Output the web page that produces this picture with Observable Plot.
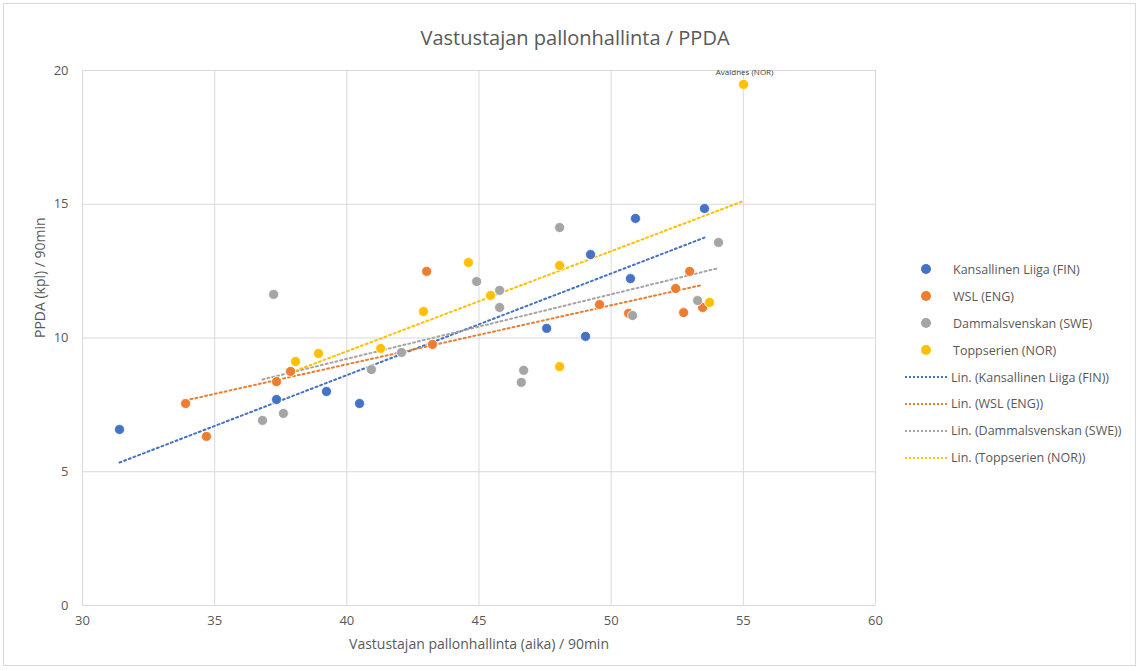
<!DOCTYPE html>
<html>
<head>
<meta charset="utf-8">
<script src="https://cdn.jsdelivr.net/npm/d3@7"></script>
<script src="https://cdn.jsdelivr.net/npm/@observablehq/plot@0.6"></script>
<style>
  html, body { margin: 0; padding: 0; background: #fff; }
  #wrap { position: relative; width: 1141px; height: 671px; overflow: hidden; font-family: "Open Sans", "Liberation Sans", sans-serif; color: #595959; }
  #frame { position: absolute; left: 3px; top: 3px; width: 1133px; height: 663px; border: 1px solid #d9d9d9; box-sizing: border-box; pointer-events: none; }
  #title { position: absolute; left: 0; top: 24px; width: 1150px; text-align: center; font-size: 20px; color: #595959; }
  #chart { position: absolute; left: 0; top: 60px; }
  #legend { position: absolute; left: 905px; top: 256px; font-size: 12.5px; color: #595959; }
  .row { height: 26.9px; display: flex; align-items: center; white-space: nowrap; }
  .sw { width: 42px; display: flex; justify-content: center; align-items: center; margin-right: 6px; }
  .dot { width: 10px; height: 10px; border-radius: 50%; }
  .ln { width: 42px; height: 0; border-top: 2px dotted; }
</style>
</head>
<body>
<div id="wrap">
  <div id="frame"></div>
  <div id="title">Vastustajan pallonhallinta / PPDA</div>
  <div id="chart"></div>
  <div id="legend"></div>
</div>
<script>
// Series names and colours
const seriesNames = ["Kansallinen Liiga (FIN)", "WSL (ENG)", "Dammalsvenskan (SWE)", "Toppserien (NOR)"];
const seriesColors = ["#4472C4", "#ED7D31", "#A5A5A5", "#FFC000"];

// Kansallinen Liiga (FIN)
const finX = [31.4, 37.34, 39.23, 40.48, 47.56, 49.03, 49.22, 50.73, 50.92, 53.53];
const finY = [6.58, 7.70, 8.0, 7.55, 10.36, 10.06, 13.12, 12.22, 14.47, 14.84];

// WSL (ENG)
const engX = [33.9, 34.69, 37.34, 37.87, 43.02, 43.24, 49.56, 50.66, 52.44, 52.74, 52.97, 53.46];
const engY = [7.55, 6.32, 8.37, 8.75, 12.49, 9.76, 11.25, 10.92, 11.85, 10.95, 12.49, 11.14];

// Dammalsvenskan (SWE)
const sweX = [37.23, 36.81, 37.6, 40.93, 42.07, 44.91, 45.78, 45.78, 48.05, 46.69, 46.6, 50.81, 53.27, 54.06];
const sweY = [11.63, 6.92, 7.18, 8.82, 9.46, 12.11, 11.78, 11.14, 14.13, 8.79, 8.34, 10.84, 11.40, 13.57];

// Toppserien (NOR)
const norX = [55.01, 38.06, 38.93, 41.28, 42.9, 44.6, 45.44, 48.05, 48.05, 53.72];
const norY = [19.48, 9.12, 9.42, 9.61, 10.99, 12.82, 11.59, 12.71, 8.93, 11.33];

// Labelled point
const labelText = ["Avaldnes (NOR)"];
const labelX = [55.01];
const labelY = [19.48];

// Axis ticks and titles
const xTicks = [30, 35, 40, 45, 50, 55, 60];
const yTicks = [0, 5, 10, 15, 20];
const xTitle = "Vastustajan pallonhallinta (aika) / 90min";
const yTitle = "PPDA (kpl) / 90min";

const seriesX = [finX, engX, sweX, norX];
const seriesY = [finY, engY, sweY, norY];
const data = [];
seriesNames.forEach((s, i) => {
  seriesX[i].forEach((x, j) => data.push({series: s, x, y: seriesY[i][j]}));
});
const labels = labelText.map((t, i) => ({t, x: labelX[i], y: labelY[i]}));

const plot = Plot.plot({
  width: 1141,
  height: 610,
  marginLeft: 82,
  marginRight: 266,
  marginTop: 10,
  marginBottom: 65,
  style: {fontFamily: "'Open Sans', 'Liberation Sans', sans-serif", color: "#595959", background: "transparent"},
  x: {domain: [30, 60]},
  y: {domain: [0, 20]},
  color: {domain: seriesNames, range: seriesColors},
  marks: [
    Plot.gridX(xTicks, {stroke: "#d9d9d9", strokeOpacity: 1}),
    Plot.gridY(yTicks, {stroke: "#d9d9d9", strokeOpacity: 1}),
    Plot.axisX(xTicks, {tickSize: 0, tickPadding: 10, fontSize: 13, label: null}),
    Plot.axisY(yTicks, {tickSize: 0, tickPadding: 14, fontSize: 13, label: null}),
    Plot.linearRegressionY(data, {x: "x", y: "y", stroke: "series", ci: 0, strokeWidth: 2, strokeDasharray: "2 3"}),
    Plot.dot(data, {x: "x", y: "y", fill: "series", r: 5, stroke: "white", strokeWidth: 0.8}),
    Plot.text(labels, {x: "x", y: "y", text: "t", dy: -12, dx: 1, fontSize: 8, fill: "#404040"}),
    Plot.text([xTitle], {frameAnchor: "bottom", dy: 43, fontSize: 14, fill: "#595959"}),
    Plot.text([yTitle], {frameAnchor: "left", rotate: -90, dx: -42, fontSize: 14, fill: "#595959"})
  ]
});
document.getElementById("chart").appendChild(plot);

// Legend
const leg = document.getElementById("legend");
seriesNames.forEach((s, i) => {
  const r = document.createElement("div"); r.className = "row";
  r.innerHTML = `<span class="sw"><span class="dot" style="background:${seriesColors[i]}"></span></span><span>${s}</span>`;
  leg.appendChild(r);
});
seriesNames.forEach((s, i) => {
  const r = document.createElement("div"); r.className = "row";
  r.innerHTML = `<span class="sw" style="margin-right:4px"><span class="ln" style="border-color:${seriesColors[i]}"></span></span><span>Lin. (${s})</span>`;
  leg.appendChild(r);
});
</script>
</body>
</html>
